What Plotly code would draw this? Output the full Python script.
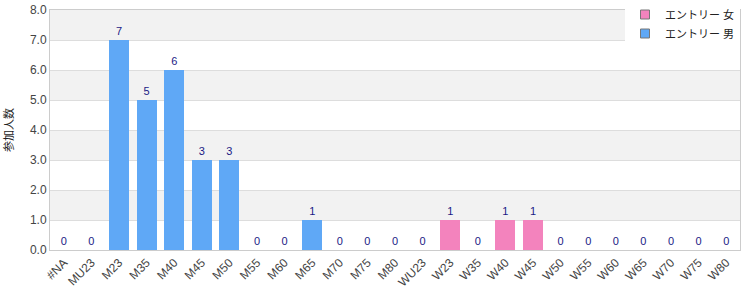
import plotly.graph_objects as go

categories = ["#NA", "MU23", "M23", "M35", "M40", "M45", "M50", "M55", "M60", "M65",
              "M70", "M75", "M80", "WU23", "W23", "W35", "W40", "W45", "W50", "W55",
              "W60", "W65", "W70", "W75", "W80"]
men_values = [0, 0, 7, 5, 6, 3, 3, 0, 0, 1, 0, 0, 0, None, None, None, None, None,
              None, None, None, None, None, None, None]
women_values = [None, None, None, None, None, None, None, None, None, None, None, None,
                None, 0, 1, 0, 1, 1, 0, 0, 0, 0, 0, 0, 0]
women_name = "エントリー 女"
men_name = "エントリー 男"
y_title = "参加人数"
y_ticks = [0, 1, 2, 3, 4, 5, 6, 7, 8]

BLUE = "#5fa8f6"
PINK = "#f383bd"
LABEL = "#1a1a85"
FONT = "Liberation Sans, Arial, Noto Sans CJK JP, sans-serif"

fig = go.Figure()
for name, vals, col in [(women_name, women_values, PINK), (men_name, men_values, BLUE)]:
    fig.add_trace(go.Bar(
        x=categories, y=vals, marker=dict(color=col, line=dict(width=0)),
        text=[None if v is None else str(v) for v in vals],
        textposition="outside", textfont=dict(color=LABEL, size=11, family=FONT),
        cliponaxis=False, showlegend=False, name=name,
    ))
# legend entries
for name, col in [(women_name, PINK), (men_name, BLUE)]:
    fig.add_trace(go.Scatter(x=[None], y=[None], name=name, mode="markers",
                             marker=dict(symbol="square", size=9, color=col,
                                         line=dict(color="#777777", width=1)),
                             showlegend=True))

# alternating background bands
shapes = []
for i in range(len(y_ticks) - 1):
    if i % 2 == 1:
        shapes.append(dict(type="rect", xref="paper", yref="y", x0=0, x1=1,
                           y0=y_ticks[i], y1=y_ticks[i + 1], fillcolor="#f2f2f2",
                           line=dict(width=0), layer="below"))

fig.update_layout(
    width=750, height=300,
    margin=dict(l=50, r=10, t=10, b=50, autoexpand=False),
    paper_bgcolor="white", plot_bgcolor="white",
    barmode="stack", bargap=0.275,
    font=dict(family=FONT, size=12, color="#444444"),
    shapes=shapes,
    showlegend=True,
    legend=dict(x=1, xanchor="right", y=1, yanchor="top", yref="container",
                traceorder="normal", bgcolor="white",
                font=dict(size=11, color="#222222"),
                itemwidth=30, tracegroupgap=0),
)
fig.update_xaxes(type="category", tickangle=-45, showline=True, linecolor="#cccccc",
                 mirror=True, ticks="", tickfont=dict(size=12, color="#444444"))
fig.update_yaxes(range=[0, 8], tickvals=y_ticks, tickformat=".1f", showgrid=True,
                 gridcolor="#dddddd", showline=True, linecolor="#cccccc", mirror=True,
                 zeroline=False, title=dict(text=y_title, standoff=14,
                                            font=dict(size=11, color="#222222")),
                 tickfont=dict(size=12, color="#444444"))

fig.write_html("out.html")
